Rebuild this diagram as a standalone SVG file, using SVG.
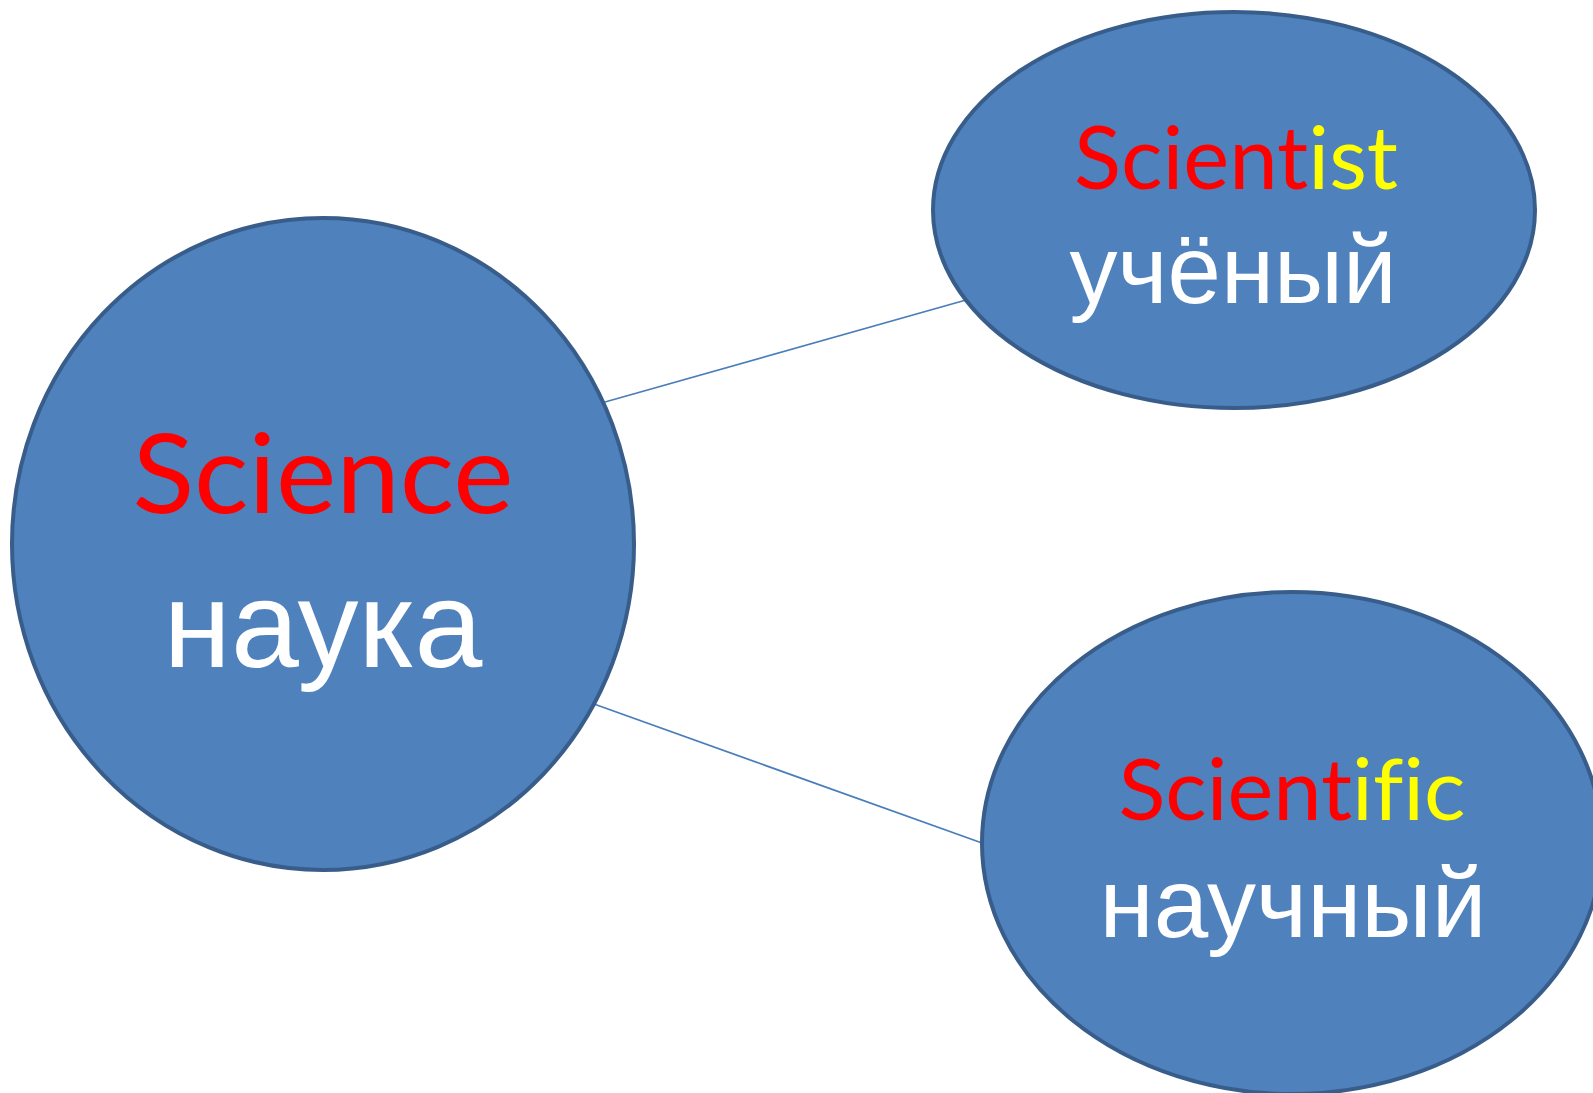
<svg xmlns="http://www.w3.org/2000/svg" width="1593" height="1093" viewBox="0 0 1593 1093">
<style>
.node{fill:#4F81BD;stroke:#385D8A;stroke-width:4}
.en{font-family:Lato,"Open Sans","Liberation Sans",sans-serif;text-anchor:middle;font-variant-ligatures:none;font-feature-settings:"liga" 0,"clig" 0,"dlig" 0}
.ru{font-family:"Liberation Sans",Arial,sans-serif;fill:#FFFFFF;text-anchor:middle}
.r{fill:#FF0000}
.y{fill:#FFFF00}
.conn{stroke:#4A7EBB;stroke-width:1.8;fill:none}
</style>
<rect width="1593" height="1093" fill="#FFFFFF"/>
<g id="connectors">
<line class="conn" x1="605" y1="402" x2="966" y2="300"/>
<line class="conn" x1="594" y1="704" x2="982" y2="843"/>
</g>
<g id="science">
<ellipse class="node" cx="323" cy="544" rx="311" ry="326"/>
<text class="en" x="323" y="513" font-size="110" textLength="381" lengthAdjust="spacingAndGlyphs"><tspan class="r">Science</tspan></text>
<text class="ru" x="323" y="667" font-size="122">наука</text>
</g>
<g id="scientist">
<ellipse class="node" cx="1234" cy="210" rx="301" ry="198"/>
<text class="en" x="1236" y="189" font-size="88" textLength="324" lengthAdjust="spacingAndGlyphs"><tspan class="r">Scient</tspan><tspan class="y">ist</tspan></text>
<text class="ru" x="1233" y="303" font-size="96">учёный</text>
</g>
<g id="scientific">
<ellipse class="node" cx="1292" cy="843" rx="310" ry="251"/>
<text class="en" x="1292" y="820" font-size="85" textLength="347" lengthAdjust="spacingAndGlyphs"><tspan class="r">Scient</tspan><tspan class="y">ific</tspan></text>
<text class="ru" x="1293" y="937" font-size="98">научный</text>
</g>
</svg>
